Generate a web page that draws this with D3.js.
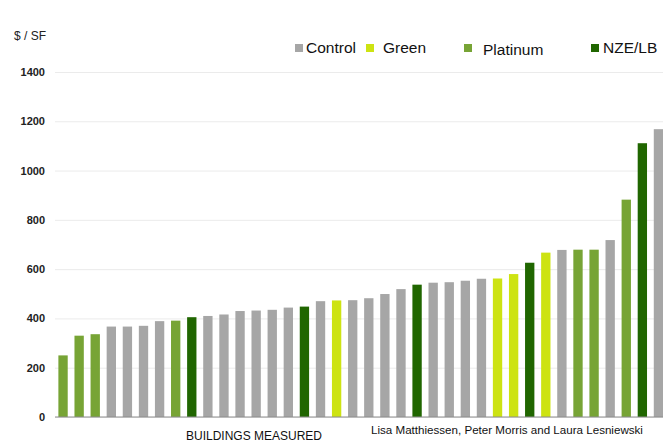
<!DOCTYPE html>
<html>
<head>
<meta charset="utf-8">
<script src="https://cdn.jsdelivr.net/npm/d3@7"></script>
<style>
  body { margin: 0; background: #fff; }
  svg { display: block; font-family: "Liberation Sans", Arial, sans-serif; }
  .y-axis text { font-weight: bold; font-size: 11px; fill: #222; }
  .y-axis .domain { display: none; }
  .y-axis .tick line { stroke: #ebebeb; }
</style>
</head>
<body>
<svg width="663" height="448"></svg>
<script>
// cost per building, sorted low to high
const values = [250, 330, 336, 367, 367, 370, 389, 391, 405, 410, 416, 430, 432, 435, 444, 448,
    470, 473, 474, 482, 499, 519, 537, 545, 547, 553, 561, 562, 580, 626, 667, 678, 679, 679,
    718, 882, 1111, 1168]
const types = ["Platinum", "Platinum", "Platinum", "Control", "Control", "Control", "Control", "Platinum",
    "NZE/LB", "Control", "Control", "Control", "Control", "Control", "Control", "NZE/LB",
    "Control", "Green", "Control", "Control", "Control", "Control", "NZE/LB", "Control",
    "Control", "Control", "Control", "Green", "Green", "NZE/LB", "Green", "Control",
    "Platinum", "Platinum", "Control", "Platinum", "NZE/LB", "Control"]
const categories = ["Control", "Green", "Platinum", "NZE/LB"]
const yTicks = [0, 200, 400, 600, 800, 1000, 1200, 1400]

const svg = d3.select("svg")

const colour = d3.scaleOrdinal()
    .domain(categories)
    .range(["#a6a6a6", "#cde312", "#77a435", "#206600"])

const scaleX = d3.scaleBand()
    .domain(d3.range(values.length))
    .range([55, 666.5])
    .paddingInner(0.42)
    .paddingOuter(0.21)

const scaleY = d3.scaleLinear()
    .domain([0, 1400])
    .range([417, 72])

const axisYGenerator = d3.axisLeft(scaleY)
    .tickValues(yTicks)
    .tickFormat(d3.format("d"))
    .tickSize(-608)
    .tickPadding(10)

svg.append("g")
    .attr("class", "y-axis")
    .attr("transform", "translate(55,0)")
    .call(axisYGenerator)

svg.append("g")
    .selectAll("rect")
    .data(values)
    .enter()
    .append("rect")
    .attr("x", (d, i) => scaleX(i))
    .attr("y", d => scaleY(d))
    .attr("width", scaleX.bandwidth())
    .attr("height", d => scaleY(0) - scaleY(d))
    .attr("fill", (d, i) => colour(types[i]))

// baseline
svg.append("line")
    .attr("x1", 55).attr("x2", 663)
    .attr("y1", scaleY(0)).attr("y2", scaleY(0))
    .attr("stroke", "#8c8c8c")

svg.append("text")
    .attr("x", 14).attr("y", 39.5)
    .attr("font-size", 12)
    .attr("fill", "#222")
    .text("$ / SF")

// legend
const legendX = [295, 366, 464, 591]
const legendTextX = [306, 383, 483, 603]
const legend = svg.append("g")
    .selectAll("g")
    .data(categories)
    .enter()
    .append("g")

legend.append("rect")
    .attr("x", (d, i) => legendX[i])
    .attr("y", 44)
    .attr("width", 8).attr("height", 8)
    .attr("fill", d => colour(d))

legend.append("text")
    .attr("x", (d, i) => legendTextX[i])
    .attr("y", (d, i) => i == 2 ? 54.5 : 53)
    .attr("font-size", 15.5)
    .attr("fill", "#111")
    .text(d => d)

svg.append("text")
    .attr("x", 254).attr("y", 440)
    .attr("text-anchor", "middle")
    .attr("font-size", 12)
    .attr("fill", "#111")
    .text("BUILDINGS MEASURED")

svg.append("text")
    .attr("x", 371).attr("y", 433.5)
    .attr("font-size", 11.6)
    .attr("fill", "#111")
    .text("Lisa Matthiessen, Peter Morris and Laura Lesniewski")
</script>
</body>
</html>
